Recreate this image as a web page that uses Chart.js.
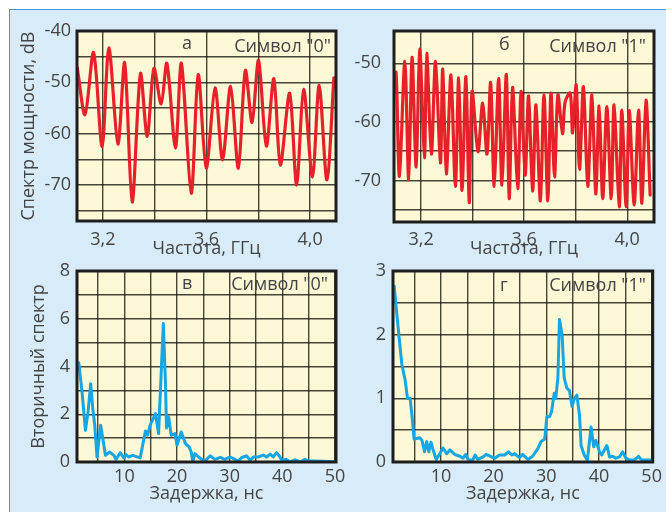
<!DOCTYPE html>
<html>
<head>
<meta charset="utf-8">
<script src="https://cdn.jsdelivr.net/npm/chart.js@4.4.1/dist/chart.umd.min.js"></script>
<style>
  html, body { margin: 0; padding: 0; background: #fff; }
  body { width: 666px; height: 512px; position: relative; overflow: hidden; font-family: "Open Sans", sans-serif; }
  .panel { position: absolute; left: 9px; top: 9px; width: 657px; height: 503px; background: #d7ecf8;
           border-left: 1px solid #3f9bd5; border-top: 1px solid #3f9bd5; box-sizing: border-box; }
  canvas { position: absolute; left: 0; top: 0; width: 666px; height: 512px; }
  .note { position: absolute; font-size: 18px; line-height: 18px; color: #444; white-space: nowrap; }
</style>
</head>
<body>
<div class="panel"></div>
<canvas id="chartA" width="666" height="512"></canvas>
<canvas id="chartB" width="666" height="512"></canvas>
<canvas id="chartC" width="666" height="512"></canvas>
<canvas id="chartD" width="666" height="512"></canvas>

<span class="note" style="left:182px; top:33px;">а</span>
<span class="note" style="right:335px; top:36px;">Символ "0"</span>
<span class="note" style="left:499px; top:34px;">б</span>
<span class="note" style="right:20px; top:36px;">Символ "1"</span>
<span class="note" style="left:182px; top:273px;">в</span>
<span class="note" style="right:338px; top:274px;">Символ "0"</span>
<span class="note" style="left:500px; top:275px;">г</span>
<span class="note" style="right:20px; top:275px;">Символ "1"</span>

<script>
// ─── DATA: power spectrum, symbol "0" (а) ───
const freqA = [3.101, 3.131, 3.164, 3.197, 3.223, 3.258, 3.284, 3.313, 3.345, 3.371, 3.397, 3.425,
               3.447, 3.480, 3.503, 3.541, 3.568, 3.599, 3.633, 3.662, 3.693, 3.723, 3.750, 3.776,
               3.801, 3.831, 3.860, 3.885, 3.921, 3.948, 3.975, 4.009, 4.035, 4.065, 4.092];
const dbA = [-47.2, -56.3, -44.2, -62.5, -43.3, -62.0, -46.2, -73.3, -48.3, -60.5, -47.3, -54.2,
             -46.3, -62.8, -46.3, -71.6, -48.5, -66.7, -51.1, -65.1, -50.8, -66.7, -47.7, -57.8,
             -45.7, -62.4, -49.3, -66.1, -52.1, -70.0, -51.4, -68.4, -50.6, -69.0, -49.1];

// ─── DATA: power spectrum, symbol "1" (б) ───
const freqB = [3.094, 3.103, 3.116, 3.137, 3.152, 3.165, 3.181, 3.195, 3.213, 3.222, 3.240, 3.256,
               3.275, 3.284, 3.298, 3.316, 3.333, 3.346, 3.359, 3.374, 3.387, 3.398, 3.421, 3.439,
               3.456, 3.470, 3.484, 3.501, 3.514, 3.531, 3.542, 3.555, 3.575, 3.588, 3.604, 3.617,
               3.633, 3.646, 3.663, 3.677, 3.692, 3.704, 3.718, 3.731, 3.749, 3.759, 3.779, 3.788,
               3.802, 3.815, 3.830, 3.847, 3.863, 3.878, 3.891, 3.905, 3.921, 3.938, 3.949, 3.969,
               3.979, 3.996, 4.008, 4.027, 4.044, 4.057, 4.073, 4.089];
const dbB = [-54.6, -51.6, -69.3, -49.7, -69.9, -49.0, -67.7, -47.6, -66.1, -48.3, -65.5, -49.7,
             -67.0, -51.0, -68.9, -52.0, -71.0, -52.5, -71.7, -52.3, -73.8, -54.8, -65.1, -56.8,
             -65.5, -53.3, -71.0, -52.6, -70.8, -51.9, -73.1, -54.1, -71.4, -54.8, -69.1, -55.6,
             -71.8, -57.1, -73.5, -55.4, -73.5, -55.1, -69.4, -55.4, -62.0, -56.6, -55.1, -61.9,
             -53.7, -68.1, -54.0, -71.0, -55.4, -72.3, -57.3, -73.1, -57.4, -73.1, -57.1, -74.5,
             -58.0, -74.5, -58.1, -74.2, -58.0, -73.9, -56.3, -72.5];

// ─── DATA: secondary spectrum, symbol "0" (в) ───
const delayC = [1.33, 1.96, 2.6, 3.1, 3.6, 4.0, 4.37, 4.8, 5.5, 5.9, 6.4, 7.2, 8.0, 8.4, 9.2, 9.9,
                10.3, 10.8, 11.6, 13.0, 14.0, 14.4, 14.9, 15.9, 16.5, 17.0, 17.4, 17.8, 18.0, 18.4,
                18.9, 19.6, 20.0, 20.8, 21.6, 22.3, 22.7, 23.0, 23.4, 24.1, 24.7, 25.3, 26.3, 27.2,
                28.2, 29.1, 30.1, 31.0, 31.6, 32.3, 33.2, 33.9, 34.5, 35.4, 36.4, 37.0, 37.7, 38.3,
                38.9, 39.4, 39.9, 40.7, 41.5, 42.4, 43.4, 44.3, 44.9, 45.9, 47.8, 49.7, 50.1];
const valC = [4.16, 2.93, 1.33, 2.1, 3.28, 2.23, 1.54, 0.21, 1.54, 0.98, 0.28, 0.42, 0.28, 0.11, 0.39, 0.17,
              0.31, 0.21, 0.28, 0.17, 1.30, 1.12, 1.54, 2.03, 1.19, 3.77, 5.80, 3.35, 1.42, 1.89,
              1.12, 1.19, 0.70, 1.26, 0.77, 0.63, 0.42, 0.0, 0.35, 0.21, 0.11, 0.04, 0.26, 0.11,
              0.19, 0.11, 0.21, 0.11, 0.04, 0.19, 0.26, 0.07, 0.21, 0.21, 0.29, 0.21, 0.33, 0.21,
              0.39, 0.26, 0.07, 0.11, 0.01, 0.09, 0.01, 0.11, 0.04, 0.04, 0.03, 0.01, 0.03];

// ─── DATA: secondary spectrum, symbol "1" (г) ───
const delayD = [1.13, 1.76, 2.58, 3.2, 3.65, 4.15, 4.53, 4.9, 5.4, 6.0, 6.4, 6.9, 7.3, 7.7, 8.1, 8.55,
                9.1, 9.7, 10.4, 11.1, 11.7, 12.6, 13.6, 14.2, 14.7, 15.2, 16.0, 16.5, 17.0, 18.0,
                18.6, 19.6, 20.2, 21.1, 22.1, 22.8, 23.5, 24.0, 24.9, 25.5, 26.5, 27.4, 28.4, 29.0,
                29.7, 30.1, 30.6, 31.0, 31.5, 31.8, 32.2, 32.5, 33.0, 33.4, 33.9, 34.4, 34.9, 35.3,
                35.8, 36.3, 36.6, 37.2, 37.8, 38.5, 39.0, 39.4, 40.1, 40.5, 41.5, 42.0, 42.6, 43.2,
                43.9, 44.5, 45.1, 45.8, 46.7, 47.5, 48.1, 49.2, 49.9];
const valD = [2.76, 2.21, 1.53, 1.29, 1.0, 1.0, 0.71, 0.36, 0.37, 0.38, 0.34, 0.16, 0.32, 0.16, 0.31, 0.18,
              0.04, 0.12, 0.22, 0.13, 0.19, 0.12, 0.09, 0.06, 0.12, 0.03, 0.03, 0.11, 0.04, 0.08,
              0.12, 0.08, 0.06, 0.11, 0.11, 0.16, 0.11, 0.13, 0.07, 0.12, 0.04, 0.09, 0.21, 0.32,
              0.36, 0.71, 0.71, 0.79, 1.08, 1.0, 1.32, 2.24, 2.0, 1.32, 1.16, 1.12, 0.87, 1.0,
              1.05, 0.74, 0.26, 0.11, 0.03, 0.55, 0.24, 0.34, 0.16, 0.11, 0.26, 0.08, 0.09, 0.06,
              0.08, 0.16, 0.06, 0.03, 0.03, 0.09, 0.03, 0.03, 0.03];

// ─── TICKS ───
const freqGrid = [3.2, 3.4, 3.6, 3.8, 4.0];
const freqLabels = ['3,2', '', '3,6', '', '4,0'];
const dbGridA = [-75, -70, -65, -60, -55, -50, -45, -40];
const dbLabelsA = ['', '-70', '', '-60', '', '-50', '', '-40'];
const dbGridB = [-75, -70, -65, -60, -55, -50];
const dbLabelsB = ['', '-70', '', '-60', '', '-50'];
const delayGrid = [5, 10, 15, 20, 25, 30, 35, 40, 45, 50];
const delayLabels = ['', '10', '', '20', '', '30', '', '40', '', '50'];
const valGridC = [0, 1, 2, 3, 4, 5, 6, 7, 8];
const valLabelsC = ['0', '', '2', '', '4', '', '6', '', '8'];
const valGridD = [0, 0.5, 1, 1.5, 2, 2.5, 3];
const valLabelsD = ['0', '', '1', '', '2', '', '3'];

const RED = '#e8202a';
const BLUE = '#17a6e3';
const TEXT = '#444';
const PLOT_BG = '#fdf8d6';
const FRAME = '#1e1e1e';
const GRID = 'rgba(25, 22, 18, 0.8)';
const FONT = { family: '"Open Sans", sans-serif', size: 18, lineHeight: 1.2 };

// yellow plot field under everything, thick frame on top
const plotFrame = {
    id: 'plotFrame',
    beforeDraw(chart) {
        const { ctx, chartArea: a } = chart;
        ctx.save();
        ctx.fillStyle = PLOT_BG;
        ctx.fillRect(a.left, a.top, a.width, a.height);
        ctx.restore();
    },
    afterDraw(chart) {
        const { ctx, chartArea: a } = chart;
        ctx.save();
        ctx.strokeStyle = FRAME;
        ctx.lineWidth = 3;
        ctx.strokeRect(a.left, a.top, a.width, a.height);
        ctx.restore();
    }
};

function axis(o) {
    return {
        type: 'linear',
        bounds: 'data',
        min: o.min,
        max: o.max,
        afterBuildTicks: s => { s.ticks = o.grid.map(v => ({ value: v })); },
        afterFit: s => { if (o.width) s.width = o.width; if (o.height) s.height = o.height; },
        ticks: { autoSkip: false, maxRotation: 0, padding: o.pad, color: TEXT, font: FONT,
                 callback: (v, i) => o.labels[i] },
        grid: { color: GRID, lineWidth: 1.4, drawTicks: false },
        border: { display: false },
        title: o.title
            ? { display: true, text: o.title, color: TEXT, font: FONT, padding: o.titlePad }
            : { display: false }
    };
}

function makeChart(id, o) {
    return new Chart(document.getElementById(id), {
        type: 'line',
        data: {
            datasets: [{
                data: o.xs.map((x, i) => ({ x: x, y: o.ys[i] })),
                borderColor: o.color,
                borderWidth: o.lineWidth,
                tension: o.tension,
                pointRadius: 0,
                fill: false,
                borderJoinStyle: 'round',
                borderCapStyle: 'round'
            }]
        },
        options: {
            responsive: false,
            animation: false,
            layout: { padding: o.layout },
            plugins: { legend: { display: false }, tooltip: { enabled: false } },
            scales: { x: axis(o.x), y: axis(o.y) }
        },
        plugins: [plotFrame]
    });
}

// ─── PANEL а ───
makeChart('chartA', {
    xs: freqA, ys: dbA, color: RED, tension: 0.3, lineWidth: 3.2,
    layout: { left: 10, top: 31, right: 330, bottom: 247 },
    x: { min: 3.1, max: 4.1, grid: freqGrid, labels: freqLabels, pad: 8, height: 44,
         title: 'Частота, ГГц', titlePad: { top: 0, bottom: 5 } },
    y: { min: -77, max: -40, grid: dbGridA, labels: dbLabelsA, pad: 6, width: 67,
         title: 'Спектр мощности, dB', titlePad: { top: 8, bottom: 0 } }
});

// ─── PANEL б ───
makeChart('chartB', {
    xs: freqB, ys: dbB, color: RED, tension: 0.3, lineWidth: 3.2,
    layout: { left: 340, top: 31, right: 12, bottom: 246 },
    x: { min: 3.095, max: 4.104, grid: freqGrid, labels: freqLabels, pad: 7, height: 44,
         title: 'Частота, ГГц', titlePad: { top: 0, bottom: 6 } },
    y: { min: -77.1, max: -44.5, grid: dbGridB, labels: dbLabelsB, pad: 13, width: 54 }
});

// ─── PANEL в ───
makeChart('chartC', {
    xs: delayC, ys: valC, color: BLUE, tension: 0, lineWidth: 3,
    layout: { left: 10, top: 271, right: 330, bottom: 5 },
    x: { min: 1, max: 50.2, grid: delayGrid, labels: delayLabels, pad: 4, height: 45,
         title: 'Задержка, нс', titlePad: { top: 0, bottom: 2 } },
    y: { min: 0, max: 8, grid: valGridC, labels: valLabelsC, pad: 7, width: 67,
         title: 'Вторичный спектр', titlePad: { top: 18, bottom: 0 } }
});

// ─── PANEL г ───
makeChart('chartD', {
    xs: delayD, ys: valD, color: BLUE, tension: 0, lineWidth: 3,
    layout: { left: 340, top: 271, right: 13, bottom: 5 },
    x: { min: 0.9, max: 50.2, grid: delayGrid, labels: delayLabels, pad: 4, height: 45,
         title: 'Задержка, нс', titlePad: { top: 0, bottom: 2 } },
    y: { min: 0, max: 3, grid: valGridD, labels: valLabelsD, pad: 7, width: 53 }
});
</script>
</body>
</html>
